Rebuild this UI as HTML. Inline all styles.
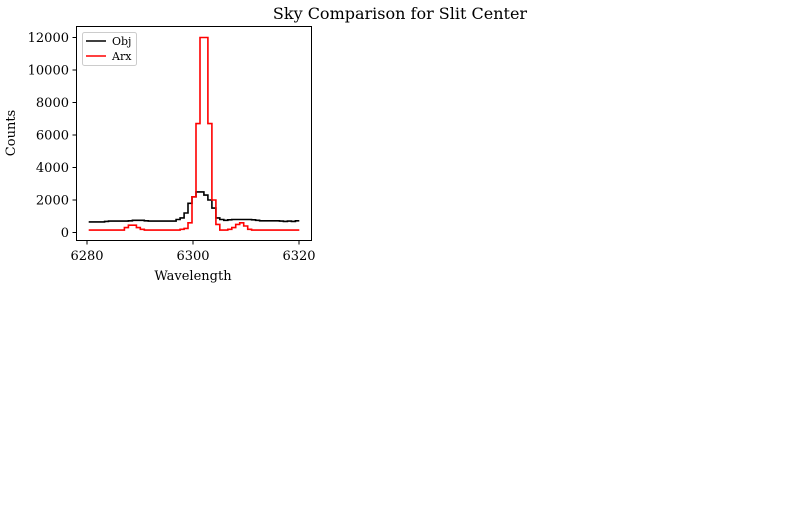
<!DOCTYPE html>
<html><head><meta charset="utf-8"><style>
body{margin:0;background:#fff;}
svg text{font-family:"DejaVu Serif","Liberation Serif",serif;fill:#000;}
</style></head><body>
<svg width="800" height="500" viewBox="0 0 800 500">
<rect width="800" height="500" fill="#fff"/>
<text x="400" y="19" font-size="16" text-anchor="middle">Sky Comparison for Slit Center</text>
<g id="plot"></g>
<rect x="76.5" y="26.5" width="235" height="214" fill="none" stroke="#000" stroke-width="1"/>
<text x="193" y="280" font-size="13" text-anchor="middle">Wavelength</text>
<text transform="translate(15,133) rotate(-90)" font-size="13" text-anchor="middle">Counts</text>
<g>
<rect x="82.5" y="32.5" width="54" height="33" rx="2" fill="#fff" stroke="#ccc"/>
<line x1="86" y1="41" x2="106" y2="41" stroke="#000" stroke-width="1.6"/>
<text x="112" y="45" font-size="11">Obj</text>
<line x1="86" y1="56" x2="106" y2="56" stroke="red" stroke-width="1.6"/>
<text x="112" y="60" font-size="11">Arx</text>
</g>
</svg>
<script>
const x0 = 6280.5, dx = 0.75;
const objCounts = [650,650,650,650,680,700,700,700,700,700,720,750,750,750,720,700,700,700,700,700,700,700,800,900,1200,1800,2200,2500,2500,2300,2000,1500,900,800,750,780,800,800,800,800,800,780,750,720,720,720,720,720,700,680,700,680,720];
const arxCounts = [150,150,150,150,150,150,150,150,150,300,450,450,300,200,150,150,150,150,150,150,150,150,150,200,250,600,2200,6700,12000,12000,6700,2000,500,150,150,200,300,500,600,400,200,150,150,150,150,150,150,150,150,150,150,150,150];
const xTicks = [6280,6300,6320];
const yTicks = [0,2000,4000,6000,8000,10000,12000];
const NS='http://www.w3.org/2000/svg';
const sx = w => 87 + (w-6280)*5.3;
const sy = v => 232.5 - v*0.01625;
const g = document.getElementById('plot');
function mk(t,a){const e=document.createElementNS(NS,t);for(const k in a)e.setAttribute(k,a[k]);return e;}
function stepPath(vals){
  let d='';
  vals.forEach((v,i)=>{const w=x0+i*dx;const xl=sx(w-dx/4),xr=sx(w+dx*3/4);const y=sy(v);
    d+=(i===0?'M':'L')+xl.toFixed(1)+','+y.toFixed(1)+'L'+xr.toFixed(1)+','+y.toFixed(1);});
  return d;
}
const p1=mk('path',{d:stepPath(objCounts),fill:'none',stroke:'#000','stroke-width':1.6});


g.appendChild(p1);
const p2=mk('path',{d:stepPath(arxCounts),fill:'none',stroke:'red','stroke-width':1.6});


g.appendChild(p2);
xTicks.forEach(t=>{const x=sx(t);
  const l=mk('line',{x1:x,y1:240.5,x2:x,y2:244.5,stroke:'#000'});
  
  
  g.appendChild(l);
  const tx=mk('text',{x:x,y:260,'font-size':13,'text-anchor':'middle'});tx.textContent=t;
  
  
  g.appendChild(tx);});
yTicks.forEach(t=>{const y=sy(t);
  const l=mk('line',{x1:72.5,y1:y,x2:76.5,y2:y,stroke:'#000'});
  
  
  g.appendChild(l);
  const tx=mk('text',{x:69,y:y+4.5,'font-size':13,'text-anchor':'end'});tx.textContent=t;
  
  
  g.appendChild(tx);});
</script>
</body></html>
